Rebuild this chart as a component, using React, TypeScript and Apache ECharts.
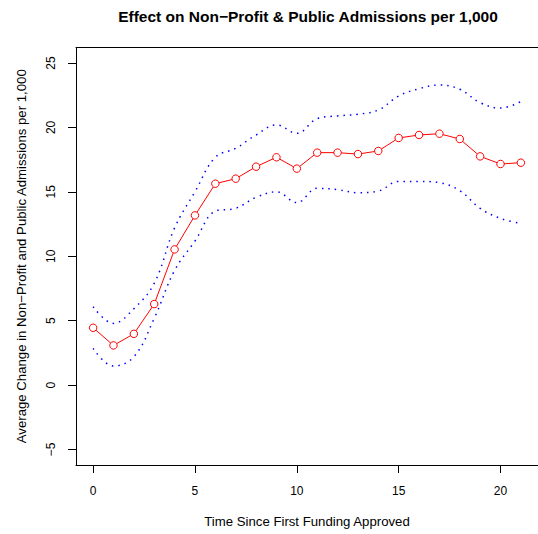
import React, { useEffect, useRef } from "react";
import * as echarts from "echarts";

const times = [0, 1, 2, 3, 4, 5, 6, 7, 8, 9, 10, 11, 12, 13, 14, 15, 16, 17, 18, 19, 20, 21];
const estimate = [4.45, 3.08, 3.98, 6.29, 10.53, 13.17, 15.63, 16.02, 16.95, 17.68, 16.8, 18.04, 18.04, 17.93, 18.17, 19.18, 19.41, 19.51, 19.1, 17.75, 17.16, 17.26];
const upper = [6.08, 4.79, 5.93, 7.9, 12.2, 15.0, 17.68, 18.38, 19.41, 20.19, 19.54, 20.68, 20.89, 21.02, 21.35, 22.44, 23.0, 23.29, 22.96, 21.92, 21.5, 22.0];
const lower = [2.85, 1.48, 2.2, 5.18, 8.9, 11.18, 13.5, 13.72, 14.57, 15.0, 14.16, 15.27, 15.17, 14.93, 15.06, 15.81, 15.81, 15.71, 15.09, 13.72, 12.94, 12.55];
const xTicks = [0, 5, 10, 15, 20];
const yTicks = [-5, 0, 5, 10, 15, 20, 25];

const FONT = "'Liberation Sans', Arial, Helvetica, sans-serif";

export default function App() {
  const ref = useRef<HTMLDivElement>(null);
  useEffect(() => {
    if (!ref.current) return;
    const chart = echarts.init(ref.current, undefined, { renderer: "svg" });
    const pair = (arr: number[]) => times.map((t, i) => [t, arr[i]]);
    chart.setOption({
      animation: false,
      backgroundColor: "#ffffff",
      textStyle: { fontFamily: FONT },
      graphic: [
        {
          type: "text",
          x: 308,
          y: 16,
          style: {
            text: "Effect on Non\u2212Profit & Public Admissions per 1,000",
            font: `bold 15.5px ${FONT}`,
            fill: "#000",
            textAlign: "center",
            textVerticalAlign: "middle",
          },
        },
      ],
      grid: {
        left: 76,
        right: -4,
        top: 47.5,
        bottom: 69,
      },
      xAxis: [
        {
          type: "value",
          min: -0.84,
          max: 21.84,
          name: "Time Since First Funding Approved",
          nameLocation: "middle",
          nameGap: 50,
          nameTextStyle: { fontSize: 13.2, color: "#000", fontFamily: FONT },
          axisLine: { show: true, onZero: false, lineStyle: { color: "#000", width: 1 } },
          splitLine: { show: false },
          axisTick: { show: true, length: 8, lineStyle: { color: "#000" }, customValues: xTicks },
          axisLabel: { fontSize: 12, color: "#000", margin: 20, fontFamily: FONT, customValues: xTicks },
        },
        {
          type: "value",
          position: "top",
          min: -0.84,
          max: 21.84,
          axisLine: { show: true, onZero: false, lineStyle: { color: "#000", width: 1 } },
          splitLine: { show: false },
          axisTick: { show: false },
          axisLabel: { show: false },
        },
      ],
      yAxis: {
        type: "value",
        min: -6.2,
        max: 26.2,
        name: "Average Change in Non\u2212Profit and Public Admissions per 1,000",
        nameLocation: "middle",
        nameGap: 48,
        nameTextStyle: { fontSize: 13.2, color: "#000", fontFamily: FONT },
        axisLine: { show: true, onZero: false, lineStyle: { color: "#000", width: 1 } },
        splitLine: { show: false },
        axisTick: { show: true, length: 8, lineStyle: { color: "#000" }, customValues: yTicks },
        axisLabel: {
          fontSize: 12,
          color: "#000",
          margin: 19,
          rotate: 90,
          fontFamily: FONT,
          customValues: yTicks,
          formatter: (v: number) => (v < 0 ? "\u2212" + Math.abs(v) : String(v)),
        },
      },
      series: [
        {
          type: "line",
          data: pair(upper),
          smooth: 0.4,
          showSymbol: false,
          lineStyle: { color: "#0000ff", width: 1.5, type: [1.5, 5] },
        },
        {
          type: "line",
          data: pair(lower),
          smooth: 0.4,
          showSymbol: false,
          lineStyle: { color: "#0000ff", width: 1.5, type: [1.5, 5] },
        },
        {
          type: "line",
          data: pair(estimate),
          symbol: "circle",
          symbolSize: 7.5,
          itemStyle: { color: "#ffffff", borderColor: "#ff0000", borderWidth: 1 },
          lineStyle: { color: "#ff0000", width: 1 },
        },
      ],
    });
    return () => chart.dispose();
  }, []);
  return (
    <div style={{ position: "fixed", left: 0, top: 0, width: 538, height: 534, overflow: "hidden" }}>
      <div ref={ref} style={{ width: 538, height: 534 }} />
    </div>
  );
}
